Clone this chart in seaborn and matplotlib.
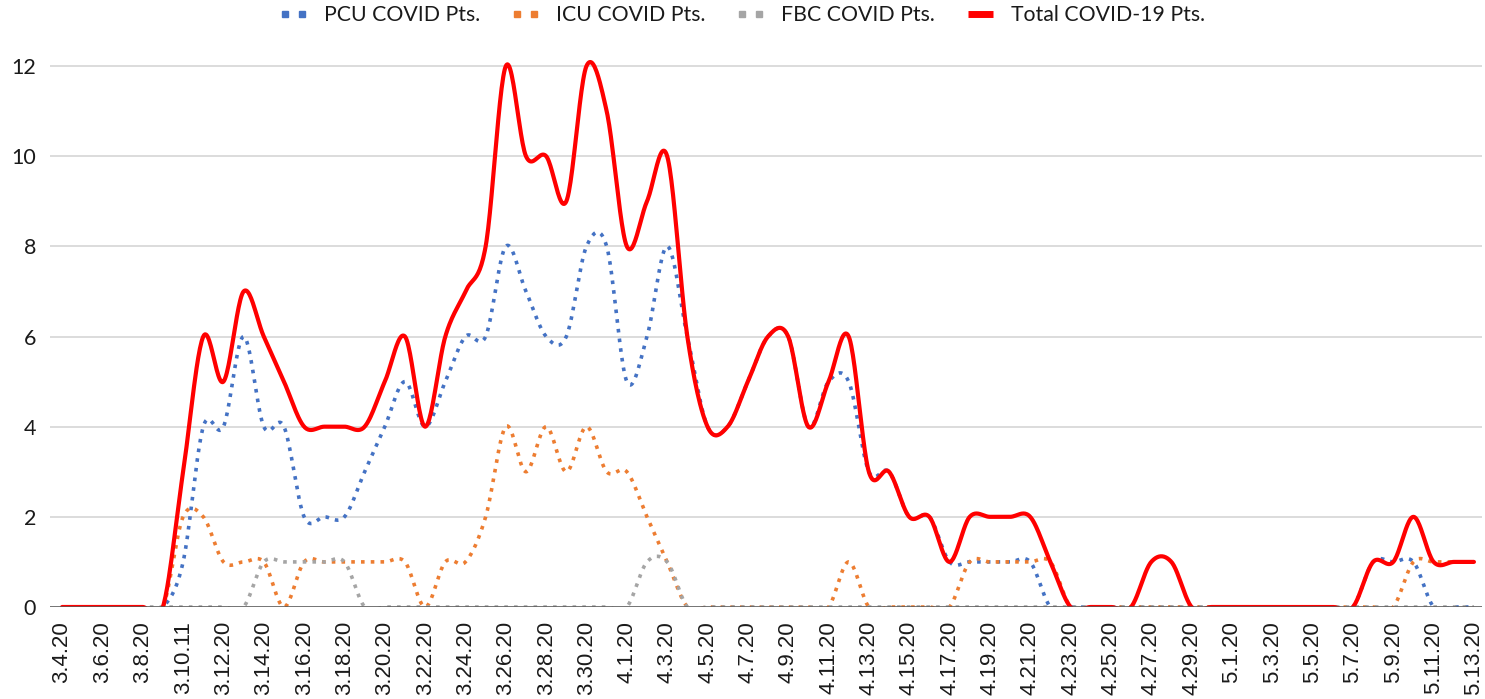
import numpy as np
import pandas as pd
import matplotlib
matplotlib.use("Agg")
import matplotlib.pyplot as plt
from matplotlib.lines import Line2D
from matplotlib.legend_handler import HandlerLine2D
import seaborn as sns

# daily census 3.4.20 .. 5.13.20 (71 days)
pcu = [0, 0, 0, 0, 0, 0, 1, 4, 4, 6, 4, 4, 2, 2, 2, 3, 4, 5, 4, 5,
       6, 6, 8, 7, 6, 6, 8, 8, 5, 6, 8, 6, 4, 4, 5, 6, 6, 4, 5, 5,
       3, 3, 2, 2, 1, 1, 1, 1, 1, 0, 0, 0, 0, 0, 0, 0, 0, 0, 0, 0,
       0, 0, 0, 0, 0, 1, 1, 1, 0, 0, 0]
icu = [0, 0, 0, 0, 0, 0, 2, 2, 1, 1, 1, 0, 1, 1, 1, 1, 1, 1, 0, 1,
       1, 2, 4, 3, 4, 3, 4, 3, 3, 2, 1, 0, 0, 0, 0, 0, 0, 0, 0, 1,
       0, 0, 0, 0, 0, 1, 1, 1, 1, 1, 0, 0, 0, 0, 0, 0, 0, 0, 0, 0,
       0, 0, 0, 0, 0, 0, 0, 1, 1, 1, 1]
fbc = [0, 0, 0, 0, 0, 0, 0, 0, 0, 0, 1, 1, 1, 1, 1, 0, 0, 0, 0, 0,
       0, 0, 0, 0, 0, 0, 0, 0, 0, 1, 1, 0, 0, 0, 0, 0, 0, 0, 0, 0,
       0, 0, 0, 0, 0, 0, 0, 0, 0, 0, 0, 0, 0, 0, 0, 0, 0, 0, 0, 0,
       0, 0, 0, 0, 0, 0, 0, 0, 0, 0, 0]
total = [0, 0, 0, 0, 0, 0, 3, 6, 5, 7, 6, 5, 4, 4, 4, 4, 5, 6, 4, 6,
         7, 8, 12, 10, 10, 9, 12, 11, 8, 9, 10, 6, 4, 4, 5, 6, 6, 4, 5, 6,
         3, 3, 2, 2, 1, 2, 2, 2, 2, 1, 0, 0, 0, 0, 1, 1, 0, 0, 0, 0,
         0, 0, 0, 0, 0, 1, 1, 2, 1, 1, 1]

tick_labels = ["3.4.20", "3.6.20", "3.8.20", "3.10.11", "3.12.20", "3.14.20",
               "3.16.20", "3.18.20", "3.20.20", "3.22.20", "3.24.20", "3.26.20",
               "3.28.20", "3.30.20", "4.1.20", "4.3.20", "4.5.20", "4.7.20",
               "4.9.20", "4.11.20", "4.13.20", "4.15.20", "4.17.20", "4.19.20",
               "4.21.20", "4.23.20", "4.25.20", "4.27.20", "4.29.20", "5.1.20",
               "5.3.20", "5.5.20", "5.7.20", "5.9.20", "5.11.20", "5.13.20"]

series_names = ["PCU COVID Pts.", "ICU COVID Pts.", "FBC COVID Pts.", "Total COVID-19 Pts."]
colors = ["#4472C4", "#ED7D31", "#A5A5A5", "#FF0000"]


def smooth(values, steps=24):
    """Excel-like smoothed line (catmull-rom through the points)."""
    y = np.asarray(values, dtype=float)
    n = len(y)
    m = np.empty(n)
    m[1:-1] = (y[2:] - y[:-2]) / 2
    m[0] = y[1] - y[0]
    m[-1] = y[-1] - y[-2]
    t = np.linspace(0, 1, steps, endpoint=False)
    h00 = 2 * t**3 - 3 * t**2 + 1
    h10 = t**3 - 2 * t**2 + t
    h01 = -2 * t**3 + 3 * t**2
    h11 = t**3 - t**2
    xs, ys = [], []
    for i in range(n - 1):
        xs.append(i + t)
        ys.append(h00 * y[i] + h10 * m[i] + h01 * y[i + 1] + h11 * m[i + 1])
    xs.append([n - 1])
    ys.append([y[-1]])
    return np.concatenate(xs), np.concatenate(ys)


sns.set_style("white")
plt.rcParams["font.family"] = ["Lato", "DejaVu Sans"]

fig = plt.figure(figsize=(14.85, 6.99), dpi=100)
ax = fig.add_axes([0.03367, 0.13162, 0.96431, 0.79327])

dotted = (0, (1, 1.7))
for name, vals, col in zip(series_names, [pcu, icu, fbc, total], colors):
    xs, ys = smooth(vals)
    df = pd.DataFrame({"day": xs, "count": ys})
    if name.startswith("Total"):
        sns.lineplot(data=df, x="day", y="count", ax=ax, color=col, lw=3.0,
                     solid_capstyle="round", zorder=4)
    else:
        sns.lineplot(data=df, x="day", y="count", ax=ax, color=col, lw=2.6,
                     linestyle=dotted, dash_capstyle="butt", zorder=3)

ax.axhline(0, color="#595959", lw=1.1, zorder=6)

ax.set_xlim(-0.6, 70.4)
ax.set_ylim(0, 12.3)
ax.set_yticks(range(0, 13, 2))
ax.set_xticks(range(0, 71, 2))
ax.set_xticklabels(tick_labels, rotation=90, fontsize=16,
                   family=["Liberation Sans", "DejaVu Sans"], color="#1a1a1a")
ax.tick_params(axis="y", labelsize=15.5, colors="#1a1a1a", length=0, pad=10)
ax.tick_params(axis="x", length=0, pad=10)
ax.set_xlabel("")
ax.set_ylabel("")
ax.yaxis.grid(True, color="#D9D9D9", lw=1.3)
ax.xaxis.grid(False)
for s in ax.spines.values():
    s.set_visible(False)

dot_handles = [Line2D([], [], linestyle="none", marker="s", markersize=5, color=c)
               for c in colors[:3]]
total_handle = Line2D([], [], color=colors[3], lw=5, solid_capstyle="butt")
handles = dot_handles + [total_handle]
hmap = {h: HandlerLine2D(numpoints=2, marker_pad=0.19) for h in dot_handles}
fig.legend(handles, series_names, loc="center", bbox_to_anchor=(0.5003, 0.978),
           ncol=4, frameon=False, handler_map=hmap, handlelength=1.16,
           handletextpad=0.85, columnspacing=1.56, fontsize=15.3,
           labelcolor="#1a1a1a")

fig.savefig("out.png", dpi=100, facecolor="white")
